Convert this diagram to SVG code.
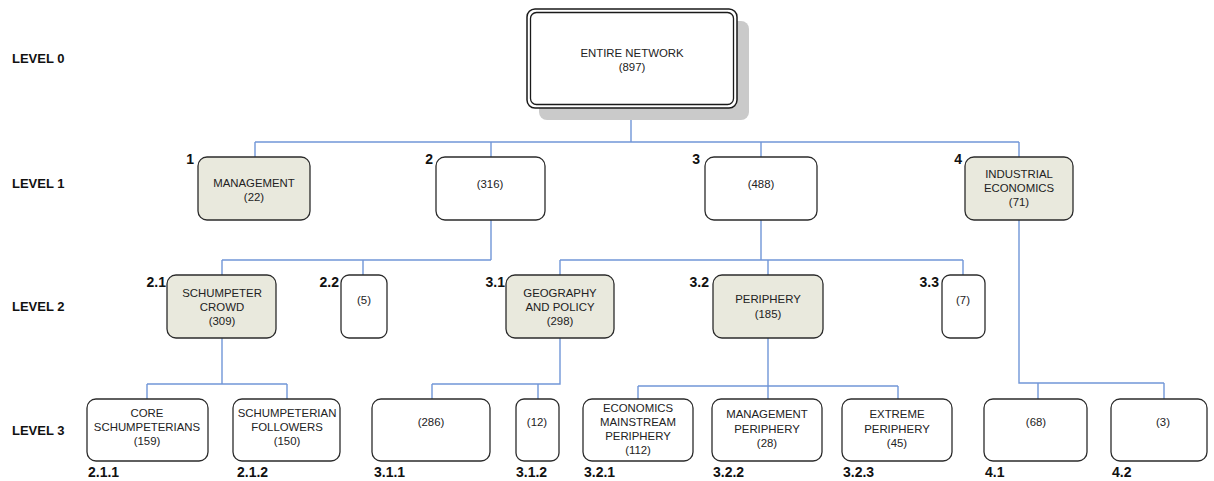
<svg xmlns="http://www.w3.org/2000/svg" width="1214" height="481" viewBox="0 0 1214 481">
<style>
.bg{fill:#ffffff}
.n{fill:#ffffff;stroke:#2b2b2b;stroke-width:1.3}
.f{fill:#e9e9dd;stroke:#2b2b2b;stroke-width:1.3}
.c{fill:none;stroke:#7196d8;stroke-width:1.4}
.t{font-family:"Liberation Sans",Arial,sans-serif;font-size:11.4px;fill:#222;text-anchor:middle}
.lv{font-family:"Liberation Sans",Arial,sans-serif;font-size:13px;font-weight:bold;fill:#111}
.id{font-family:"Liberation Sans",Arial,sans-serif;font-size:14px;font-weight:bold;fill:#111;text-anchor:end}
.idl{font-family:"Liberation Sans",Arial,sans-serif;font-size:14px;font-weight:bold;fill:#111}
</style>
<rect class="bg" x="0" y="0" width="1214" height="481"/>
<g id="levels">
<text class="lv" x="12" y="63">LEVEL 0</text>
<text class="lv" x="12" y="188">LEVEL 1</text>
<text class="lv" x="12" y="311">LEVEL 2</text>
<text class="lv" x="12" y="435">LEVEL 3</text>
</g>
<g id="connectors">
<path class="c" d="M631,108V142M255,142H1019M255,142V157M491,142V157M761,142V157M1019,142V157"/>
<path class="c" d="M491,220V260M222,260H491M222,260V275M363,260V275"/>
<path class="c" d="M761,220V260M560,260H963M560,260V275M768,260V275M963,260V275"/>
<path class="c" d="M1019,220V383H1164M1038,383V399M1164,383V399"/>
<path class="c" d="M222,338V384M147,384H287M147,384V399M287,384V399"/>
<path class="c" d="M560,338V384H432M432,384V399M538,384V399"/>
<path class="c" d="M768,338V399M638,386H898M638,386V399M898,386V399"/>
</g>
<g id="n0">
<rect x="539" y="21" width="210" height="99" rx="8" fill="#cacaca"/>
<rect x="527" y="9" width="210" height="99" rx="8" fill="#ffffff" stroke="#1a1a1a" stroke-width="1.5"/>
<rect x="530.5" y="12.5" width="203" height="92" rx="6" fill="none" stroke="#1a1a1a" stroke-width="1.3"/>
<text class="t" x="632" y="57">ENTIRE NETWORK</text>
<text class="t" x="632" y="71">(897)</text>
</g>
<g id="n1">
<rect class="f" x="198" y="157" width="112" height="63" rx="9"/>
<text class="id" x="194" y="164">1</text>
<text class="t" x="254" y="187">MANAGEMENT</text>
<text class="t" x="254" y="201">(22)</text>
</g>
<g id="n2">
<rect class="n" x="436" y="157" width="109" height="63" rx="9"/>
<text class="id" x="433" y="164">2</text>
<text class="t" x="490" y="188">(316)</text>
</g>
<g id="n3">
<rect class="n" x="705" y="157" width="112" height="63" rx="9"/>
<text class="id" x="700" y="164">3</text>
<text class="t" x="761" y="188">(488)</text>
</g>
<g id="n4">
<rect class="f" x="965" y="157" width="108" height="63" rx="9"/>
<text class="id" x="962" y="164">4</text>
<text class="t" x="1019" y="178">INDUSTRIAL</text>
<text class="t" x="1019" y="192">ECONOMICS</text>
<text class="t" x="1019" y="206">(71)</text>
</g>
<g id="n2_1">
<rect class="f" x="167" y="275" width="109" height="63" rx="9"/>
<text class="id" x="166" y="287">2.1</text>
<text class="t" x="222" y="297">SCHUMPETER</text>
<text class="t" x="222" y="311">CROWD</text>
<text class="t" x="222" y="325">(309)</text>
</g>
<g id="n2_2">
<rect class="n" x="341" y="275" width="46" height="63" rx="8"/>
<text class="id" x="339" y="287">2.2</text>
<text class="t" x="364" y="304">(5)</text>
</g>
<g id="n3_1">
<rect class="f" x="506" y="275" width="108" height="63" rx="9"/>
<text class="id" x="505" y="287">3.1</text>
<text class="t" x="560" y="297">GEOGRAPHY</text>
<text class="t" x="560" y="311">AND POLICY</text>
<text class="t" x="560" y="325">(298)</text>
</g>
<g id="n3_2">
<rect class="f" x="713" y="275" width="110" height="63" rx="9"/>
<text class="id" x="709" y="287">3.2</text>
<text class="t" x="768" y="303">PERIPHERY</text>
<text class="t" x="768" y="318">(185)</text>
</g>
<g id="n3_3">
<rect class="n" x="942" y="275" width="43" height="63" rx="8"/>
<text class="id" x="939" y="287">3.3</text>
<text class="t" x="963" y="304">(7)</text>
</g>
<g id="n2_1_1">
<rect class="n" x="87" y="399" width="121" height="62" rx="9"/>
<text class="t" x="147" y="417">CORE</text>
<text class="t" x="147" y="431">SCHUMPETERIANS</text>
<text class="t" x="147" y="445">(159)</text>
<text class="idl" x="88" y="477">2.1.1</text>
</g>
<g id="n2_1_2">
<rect class="n" x="233" y="399" width="107" height="62" rx="9"/>
<text class="t" x="287" y="417">SCHUMPETERIAN</text>
<text class="t" x="287" y="431">FOLLOWERS</text>
<text class="t" x="287" y="445">(150)</text>
<text class="idl" x="237" y="477">2.1.2</text>
</g>
<g id="n3_1_1">
<rect class="n" x="372" y="399" width="118" height="62" rx="9"/>
<text class="t" x="431" y="426">(286)</text>
<text class="idl" x="374" y="477">3.1.1</text>
</g>
<g id="n3_1_2">
<rect class="n" x="516" y="399" width="43" height="62" rx="8"/>
<text class="t" x="537" y="426">(12)</text>
<text class="idl" x="516" y="477">3.1.2</text>
</g>
<g id="n3_2_1">
<rect class="n" x="583" y="399" width="110" height="62" rx="9"/>
<text class="t" x="638" y="412">ECONOMICS</text>
<text class="t" x="638" y="426">MAINSTREAM</text>
<text class="t" x="638" y="440">PERIPHERY</text>
<text class="t" x="638" y="454">(112)</text>
<text class="idl" x="584" y="477">3.2.1</text>
</g>
<g id="n3_2_2">
<rect class="n" x="712" y="399" width="110" height="62" rx="9"/>
<text class="t" x="767" y="418">MANAGEMENT</text>
<text class="t" x="767" y="433">PERIPHERY</text>
<text class="t" x="767" y="447">(28)</text>
<text class="idl" x="713" y="477">3.2.2</text>
</g>
<g id="n3_2_3">
<rect class="n" x="842" y="399" width="110" height="62" rx="9"/>
<text class="t" x="897" y="418">EXTREME</text>
<text class="t" x="897" y="433">PERIPHERY</text>
<text class="t" x="897" y="447">(45)</text>
<text class="idl" x="843" y="477">3.2.3</text>
</g>
<g id="n4_1">
<rect class="n" x="984" y="399" width="103" height="62" rx="9"/>
<text class="t" x="1036" y="426">(68)</text>
<text class="idl" x="985" y="477">4.1</text>
</g>
<g id="n4_2">
<rect class="n" x="1111" y="399" width="96" height="62" rx="9"/>
<text class="t" x="1163" y="426">(3)</text>
<text class="idl" x="1112" y="477">4.2</text>
</g>
</svg>
